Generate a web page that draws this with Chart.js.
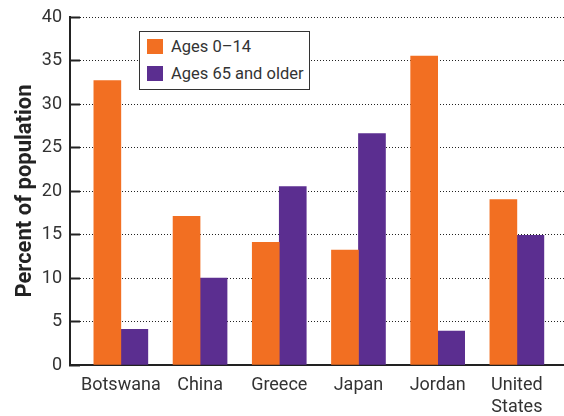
<!DOCTYPE html>
<html>
<head>
<meta charset="utf-8">
<script src="https://cdn.jsdelivr.net/npm/chart.js@4"></script>
<style>
  body { margin: 0; background: #fff; }
  #wrap { position: relative; width: 564px; height: 416px; }
  #legend {
    position: absolute; left: 139px; top: 31px; width: 169px; height: 57px;
    border: 1.5px solid #333; background: #fff;
    font-family: Roboto, sans-serif; font-size: 16.5px; color: #333;
  }
  #legend .item { position: absolute; left: 7px; height: 16px; line-height: 16px; white-space: nowrap; }
  #legend .sw { display: inline-block; width: 16px; height: 15px; vertical-align: top; margin-right: 8px; }
</style>
</head>
<body>
<div id="wrap">
  <canvas id="chart" width="564" height="416"></canvas>
  <div id="legend"></div>
</div>
<script>
// values
const categories = ["Botswana", "China", "Greece", "Japan", "Jordan", ["United", "States"]];
const seriesNames = ["Ages 0\u201314", "Ages 65 and older"];
const ages0to14 = [32.7, 17.1, 14.1, 13.2, 35.5, 19.0];
const ages65plus = [4.1, 10.0, 20.5, 26.6, 3.9, 14.9];
const yTicks = [0, 5, 10, 15, 20, 25, 30, 35, 40];

const orange = "#f26f22";
const purple = "#5b2e90";
const ink = "#222";

const toPoints = vals => vals.map((v, i) => ({ x: i, y: v }));

// legend box drawn in html, inside the plot
const legend = document.getElementById("legend");
[orange, purple].forEach((c, i) => {
  legend.innerHTML += `<div class="item" style="top:${7 + i * 27}px"><span class="sw" style="background:${c}"></span>${seriesNames[i]}</div>`;
});

new Chart(document.getElementById("chart"), {
  type: "bar",
  data: {
    datasets: [
      { label: seriesNames[0], data: toPoints(ages0to14), backgroundColor: orange },
      { label: seriesNames[1], data: toPoints(ages65plus), backgroundColor: purple }
    ]
  },
  options: {
    responsive: false,
    animation: false,
    layout: { padding: { top: 17, right: 0, left: 0, bottom: 0 } },
    barThickness: 27,
    plugins: { legend: { display: false }, tooltip: { enabled: false } },
    scales: {
      x: {
        type: "linear",
        min: -0.642,
        max: 5.595,
        offset: false,
        afterBuildTicks: s => { s.ticks = categories.map((c, i) => ({ value: i })); },
        afterFit: s => { s.height = 51; },
        grid: { display: false },
        border: { display: true, color: ink, width: 2 },
        ticks: {
          autoSkip: false, maxRotation: 0, padding: 2, color: "#333",
          font: { family: "Roboto", size: 18, lineHeight: 1.2 },
          callback: v => categories[v]
        }
      },
      y: {
        min: 0,
        max: 40,
        afterBuildTicks: s => { s.ticks = yTicks.map(v => ({ value: v })); },
        // ticks point inward, so the big label padding must not push the plot down
        afterFit: s => { s.width = 70; s.paddingTop = 11; s.paddingBottom = 11; },
        grid: { color: ink, lineWidth: 1, tickLength: -10, tickWidth: 2, tickColor: ink },
        border: { display: true, color: ink, width: 2, dash: [1, 2] },
        ticks: { padding: 18, color: "#333", font: { family: "Roboto", size: 18 } },
        title: {
          display: true, text: "Percent of population", color: ink,
          font: { family: "Roboto", size: 22, weight: "bold" },
          padding: { top: 12, bottom: 0 }
        }
      }
    }
  }
});
</script>
</body>
</html>
